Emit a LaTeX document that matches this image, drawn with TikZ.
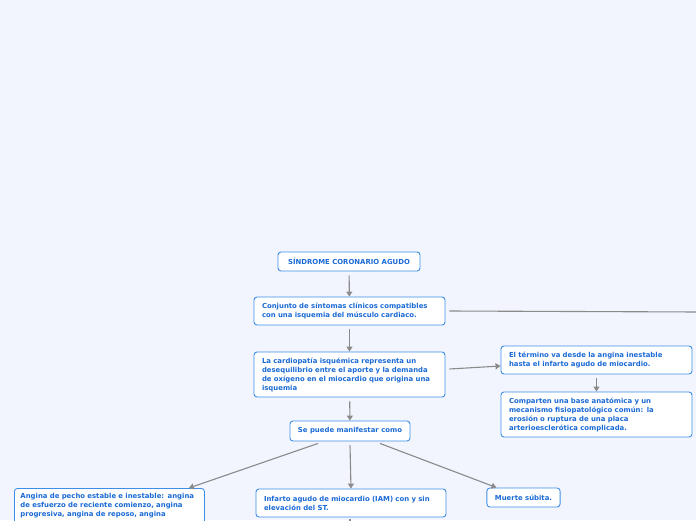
\documentclass[tikz,border=0pt]{standalone}
\usepackage{fontspec}
\setmainfont{DejaVu Sans}
\usetikzlibrary{arrows.meta,calc}
\definecolor{bg}{HTML}{F2F5FD}
\definecolor{bord}{HTML}{3D8EE8}
\definecolor{txt}{HTML}{1A6AD6}
\definecolor{conn}{HTML}{8A8A8A}
\begin{document}
\begin{tikzpicture}[x=1pt,y=-1pt,
  box/.style={draw=bord, fill=white, line width=0.9pt, rounded corners=3pt,
    text=txt, font=\fontsize{6.9}{9}\selectfont\bfseries, inner xsep=8pt, inner ysep=3pt},
  wbox/.style={box, text width=#1-16pt, minimum width=#1, align=left},
  cbox/.style={box, minimum width=#1, align=center},
  conn/.style={draw=conn, line width=1.1pt, -{Triangle[length=5pt,width=6pt]}},
  plain/.style={draw=conn, line width=1.1pt}]
\clip (0,0) rectangle (696,520);
\fill[bg] (0,0) rectangle (696,520);
\useasboundingbox (0,0) rectangle (696,520);

\node[cbox=142pt, minimum height=19pt] (b1) at (349,261.5) {SÍNDROME CORONARIO AGUDO};
\node[wbox=191pt, minimum height=28pt] (b2) at (349.5,311) {Conjunto de síntomas clínicos compatibles\\con una isquemia del músculo cardiaco.};
\node[wbox=191pt, minimum height=45pt] (b3) at (349.5,374.5) {La cardiopatía isquémica representa un\\desequilibrio entre el aporte y la demanda\\de oxígeno en el miocardio que origina una\\isquemia};
\node[wbox=191pt, minimum height=28pt] (b4) at (596.5,360) {El término va desde la angina inestable\\hasta el infarto agudo de miocardio.};
\node[wbox=191pt, minimum height=45pt] (b5) at (596.5,414.5) {Comparten una base anatómica y un\\mecanismo fisiopatológico común: la\\erosión o ruptura de una placa\\arterioesclerótica complicada.};
\node[cbox=120pt, minimum height=20pt] (b6) at (350,431) {Se puede manifestar como};
\node[box, anchor=north west, inner xsep=6pt, inner ysep=4.5pt, text width=178pt, minimum width=190pt, align=left] (b7) at (14,488) {Angina de pecho estable e inestable: angina\\de esfuerzo de reciente comienzo, angina\\progresiva, angina de reposo, angina\\\strut};
\node[wbox=190pt, minimum height=28pt] (b8) at (351,503) {Infarto agudo de miocardio (IAM) con y sin\\elevación del ST.};
\node[cbox=73pt, minimum height=19pt] (b9) at (523.5,497.5) {Muerte súbita.};

\coordinate (edgeR) at (700,312);
\coordinate (bot) at (350,530);

\draw[conn, shorten <=4pt] (b1) -- (b2);
\draw[conn, shorten <=4pt] (b2) -- (b3);
\draw[conn] ($(b3.east)+(4,-5.5)$) -- ($(b4.west)+(0,6)$);
\draw[conn, shorten <=4pt] (b4) -- (b5);
\draw[conn, shorten <=4pt] (b3) -- (b6);
\draw[conn] ($(b6.south)+(-32,2)$) -- ($(b7.north east)+(-16,0)$);
\draw[conn] ($(b6.south)+(0,4)$) -- ($(b8.north)+(0,0)$);
\draw[conn] ($(b6.south)+(30,2)$) -- ($(b9.north west)+(10,0)$);
\draw[plain] ($(b2.east)+(4,0)$) -- (edgeR);
\draw[conn] ($(b8.south)+(-1,2)$) -- (bot);
\end{tikzpicture}
\end{document}
